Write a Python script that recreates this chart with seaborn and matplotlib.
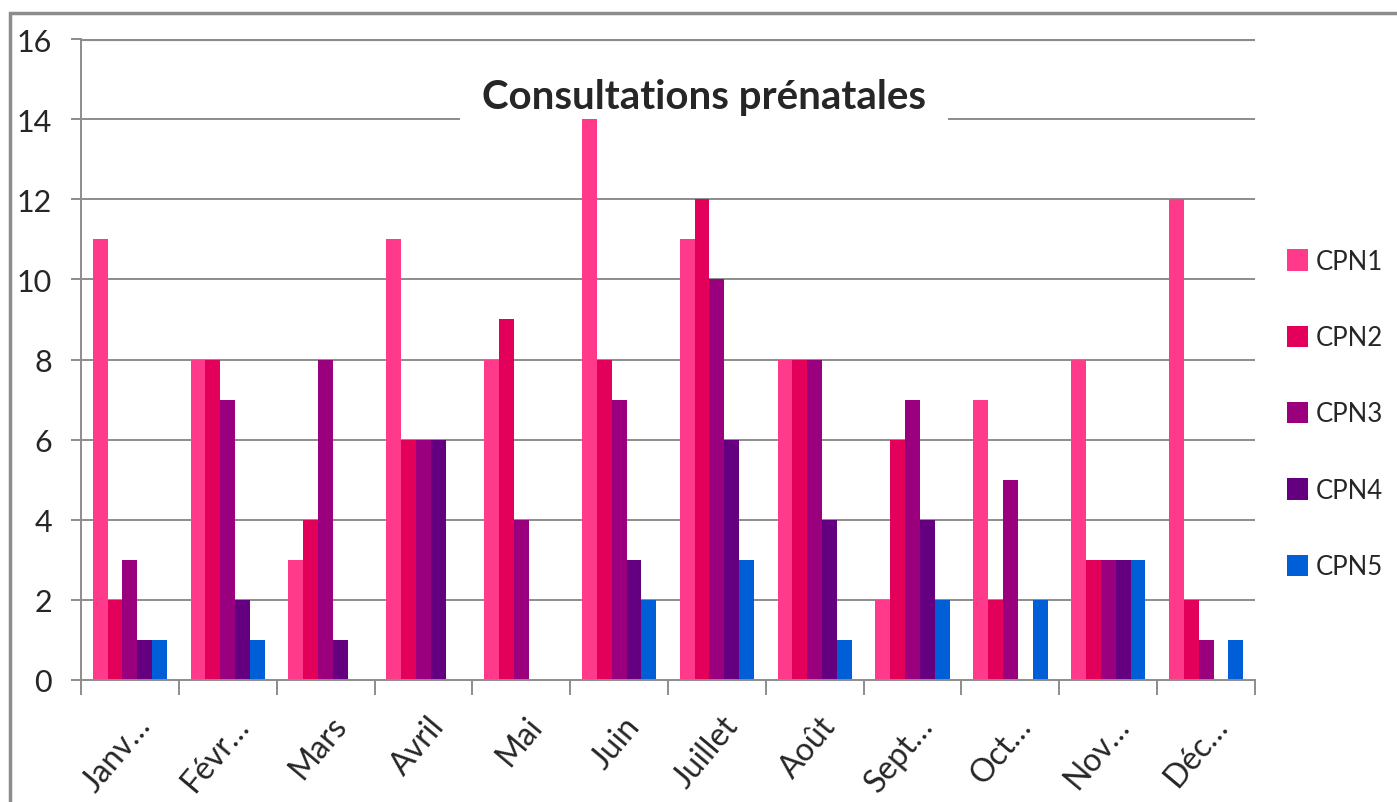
import numpy as np
import pandas as pd
import matplotlib
matplotlib.use("Agg")
import matplotlib.pyplot as plt
import matplotlib.transforms as mtransforms
from matplotlib.patches import Rectangle, Patch
import seaborn as sns

sns.set_style("white")
plt.rcParams['font.family'] = ['Lato', 'DejaVu Sans']

# data
months = ["Janv…", "Févr…", "Mars", "Avril", "Mai", "Juin",
          "Juillet", "Août", "Sept…", "Oct…", "Nov…", "Déc…"]
cpn1 = [11, 8, 3, 11, 8, 14, 11, 8, 2, 7, 8, 12]
cpn2 = [2, 8, 4, 6, 9, 8, 12, 8, 6, 2, 3, 2]
cpn3 = [3, 7, 8, 6, 4, 7, 10, 8, 7, 5, 3, 1]
cpn4 = [1, 2, 1, 6, 0, 3, 6, 4, 4, 0, 3, 0]
cpn5 = [1, 1, 0, 0, 0, 2, 3, 1, 2, 2, 3, 1]
series = ["CPN1", "CPN2", "CPN3", "CPN4", "CPN5"]
colors = ["#FF3A8A", "#E2005A", "#9A007E", "#640080", "#005ED6"]

rows = []
for name, vals in zip(series, [cpn1, cpn2, cpn3, cpn4, cpn5]):
    for m, v in zip(months, vals):
        rows.append({"mois": m, "serie": name, "valeur": v})
df = pd.DataFrame(rows)

W, H = 1397, 803
fig = plt.figure(figsize=(W / 100, H / 100), dpi=100)
ax = fig.add_axes([81 / W, 1 - 681 / H, (1255 - 81) / W, (681 - 40) / H])

sns.barplot(data=df, x="mois", y="valeur", hue="serie", order=months,
            hue_order=series, palette=colors, width=0.76, linewidth=0,
            saturation=1, ax=ax, legend=False, zorder=2)

ax.set_ylim(0, 16)
ax.set_xlim(-0.5, len(months) - 0.5)
ax.set_yticks(range(0, 17, 2))
ax.set_xlabel("")
ax.set_ylabel("")

grid_c = "#8C8C8C"
for y in range(2, 17, 2):
    ax.axhline(y, color=grid_c, lw=3 if y == 16 else 1.4, zorder=0.5)

for s in ["top", "right"]:
    ax.spines[s].set_visible(False)
for s in ["left", "bottom"]:
    ax.spines[s].set_color(grid_c)
    ax.spines[s].set_linewidth(1.4)

ax.tick_params(axis="y", direction="out", length=7, width=1.4, color=grid_c,
               pad=14, labelsize=22, left=True)
ax.set_xticks(np.arange(-0.5, len(months), 1), minor=True)
ax.tick_params(axis="x", which="minor", direction="out", length=11,
               width=1.4, color=grid_c, bottom=True)
ax.tick_params(axis="x", which="major", length=0, pad=22, labelsize=23)
offset = mtransforms.ScaledTranslation(4 / 100, 0, fig.dpi_scale_trans)
for lab in ax.get_xticklabels():
    lab.set_rotation(50)
    lab.set_ha("right")
    lab.set_va("top")
    lab.set_rotation_mode("anchor")
    lab.set_transform(lab.get_transform() + offset)

# title sits in the plot area, over the gridlines but under the bars
ax.text(704 / W, 1 - 98 / H, "Consultations prénatales", fontsize=29,
        fontweight="bold", ha="center", va="center",
        transform=fig.transFigure, zorder=1,
        bbox=dict(facecolor="white", edgecolor="none", pad=16))

handles = [Patch(facecolor=c, edgecolor="none") for c in colors]
fig.legend(handles, series, loc="center left",
           bbox_to_anchor=(1264 / W, 1 - 415 / H), frameon=False,
           fontsize=18.5, handlelength=0.8, handleheight=0.9,
           handletextpad=0.3, labelspacing=2.0)

fig.add_artist(Rectangle((10 / W, -0.05), 1.2, 1 - 14 / H + 0.05,
                         transform=fig.transFigure, fill=False,
                         edgecolor="#8C8C8C", lw=2.5))

fig.savefig("out.png", dpi=100)
